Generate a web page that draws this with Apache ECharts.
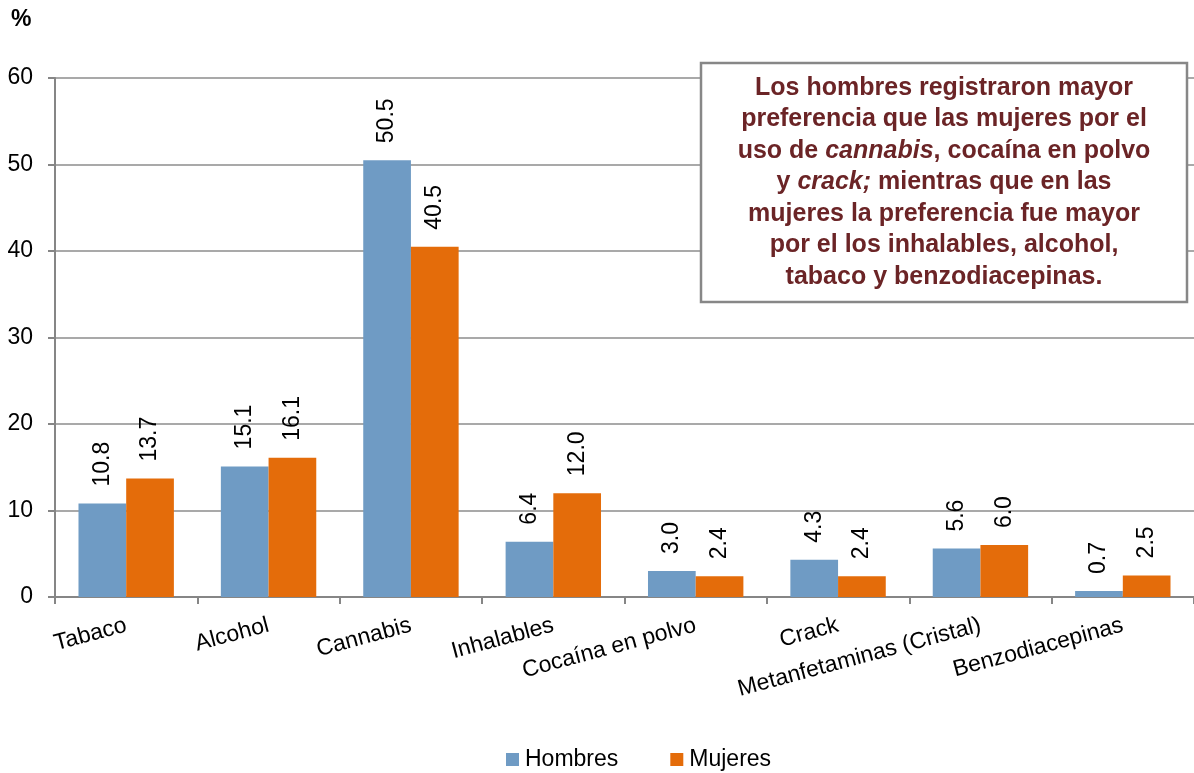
<!DOCTYPE html>
<html>
<head>
<meta charset="utf-8">
<script src="https://cdn.jsdelivr.net/npm/echarts@6/dist/echarts.min.js"></script>
<style>html,body{margin:0;padding:0;background:#fff;}#c{width:1194px;height:773px;}</style>
</head>
<body>
<div id="c"></div>
<script>
const categories = ['Tabaco','Alcohol','Cannabis','Inhalables','Cocaína en polvo','Crack','Metanfetaminas (Cristal)','Benzodiacepinas'];
const hombres = [10.8, 15.1, 50.5, 6.4, 3.0, 4.3, 5.6, 0.7];
const mujeres = [13.7, 16.1, 40.5, 12.0, 2.4, 2.4, 6.0, 2.5];
const yTicks = [0, 10, 20, 30, 40, 50, 60];
const noteLines = [
  'Los hombres registraron mayor',
  'preferencia que las mujeres por el',
  'uso de {i|cannabis}, cocaína en polvo',
  'y {i|crack;} mientras que en las',
  'mujeres la preferencia fue mayor',
  'por el los inhalables, alcohol,',
  'tabaco y benzodiacepinas.'
];

const FONT = 'Liberation Sans, Arial, sans-serif';
const chart = echarts.init(document.getElementById('c'), null, {renderer: 'canvas'});
const valLabel = {
  show: true, position: 'top', rotate: 90, align: 'left', verticalAlign: 'middle',
  distance: 17, fontFamily: FONT, fontSize: 23, color: '#000',
  formatter: p => p.value.toFixed(1)
};
chart.setOption({
  animation: false,
  backgroundColor: '#fff',
  grid: {left: 55, right: 0, top: 78, bottom: 176, containLabel: false},
  legend: {
    left: 501, top: 743, itemWidth: 13, itemHeight: 13, itemGap: 52, icon: 'rect',
    textStyle: {fontFamily: FONT, fontSize: 23, color: '#000', padding: [0,0,0,1]},
    data: ['Hombres', 'Mujeres']
  },
  xAxis: {
    type: 'category', data: categories,
    axisLine: {lineStyle: {color: '#868686', width: 2}},
    axisTick: {show: true, length: 7, lineStyle: {color: '#868686', width: 2}},
    axisLabel: {rotate: 15, margin: 28, interval: 0, fontFamily: FONT, fontSize: 23, color: '#000'}
  },
  yAxis: {
    type: 'value', min: yTicks[0], max: yTicks[yTicks.length-1], interval: 10,
    axisLine: {show: true, lineStyle: {color: '#868686', width: 2}},
    axisTick: {show: true, length: 7, lineStyle: {color: '#868686', width: 2}},
    axisLabel: {margin: 22, fontFamily: FONT, fontSize: 23, color: '#000'},
    splitLine: {lineStyle: {color: '#8c8c8c', width: 1.5}}
  },
  series: [
    {name: 'Hombres', type: 'bar', data: hombres, barGap: '0%', barCategoryGap: '33%',
     itemStyle: {color: '#6f9bc4'}, label: valLabel},
    {name: 'Mujeres', type: 'bar', data: mujeres,
     itemStyle: {color: '#e46c0a'}, label: valLabel}
  ],
  graphic: [
    {type: 'text', left: 11, top: 8, style: {text: '%', fontFamily: FONT, fontSize: 23, fontWeight: 'bold', fill: '#000'}},
    {type: 'rect', shape: {x: 701, y: 63, width: 486, height: 239},
     style: {fill: '#fff', stroke: '#878787', lineWidth: 2.5}, z: 10},
    {type: 'text', x: 944, y: 72, z: 11,
     style: {
       text: noteLines.join('\n'), align: 'center', verticalAlign: 'top',
       fontFamily: FONT, fontSize: 25, fontWeight: 'bold', fill: '#6b2426', lineHeight: 31.5,
       rich: {i: {fontFamily: FONT, fontSize: 25, fontWeight: 'bold', fontStyle: 'italic', fill: '#6b2426', lineHeight: 31.5}}
     }}
  ]
});
</script>
</body>
</html>
